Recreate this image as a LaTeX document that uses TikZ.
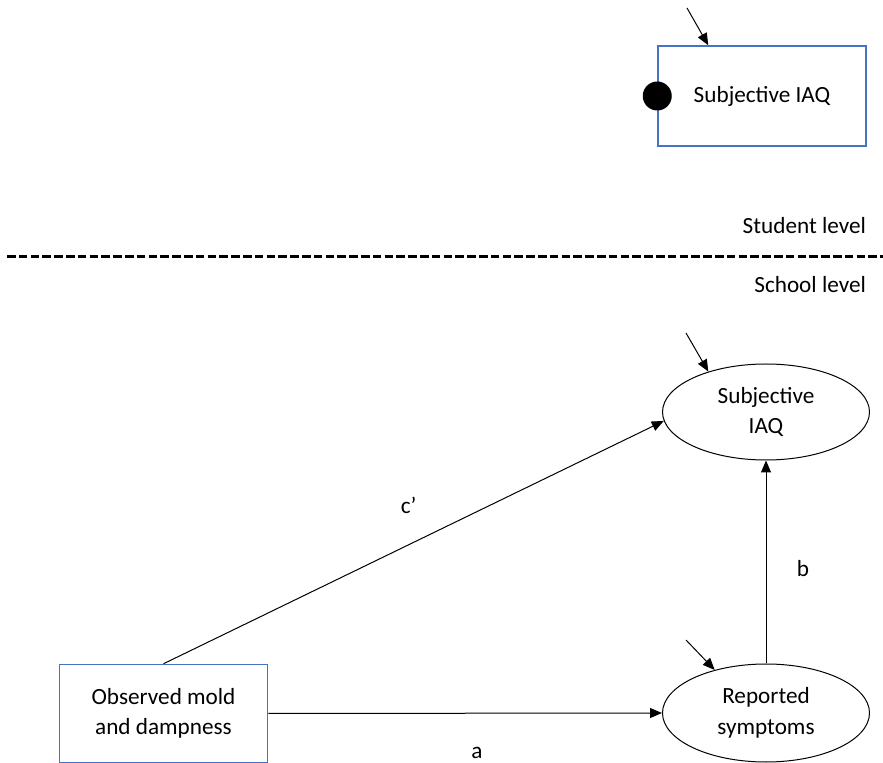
\documentclass[tikz,border=0pt]{standalone}
\usepackage{fontspec}
\setmainfont{Carlito}
\usepackage{xcolor}
\usetikzlibrary{positioning, calc, shapes.geometric, arrows.meta}
\definecolor{boxblue}{HTML}{4472C4}

\begin{document}
\begin{tikzpicture}[
    x=0.5pt, y=-0.5pt,
    every node/.style={font=\fontsize{11.6}{15.2}\selectfont},
    observed/.style={
        rectangle,
        draw=boxblue,
        line width=0.75pt,
        minimum width=104pt,
        minimum height=50pt,
        align=center,
        inner sep=0pt
    },
    latent/.style={
        ellipse,
        draw,
        line width=0.5pt,
        minimum width=103.5pt,
        minimum height=48pt,
        align=center,
        inner sep=0pt
    },
    dot/.style={
        circle,
        fill=black,
        minimum size=14.5pt,
        inner sep=0pt
    },
    arrow/.style={
        -{Triangle[length=6pt, width=5pt]},
        line width=0.5pt
    },
    divider/.style={
        line width=1.5pt,
        dash pattern=on 4.3pt off 1.6pt
    }
]
\useasboundingbox (0,0) rectangle (883,763);

% Student level
\node[observed] (iaqW) at (762,96) {Subjective IAQ};
\node[dot] (randW) at (iaqW.west) {};
\coordinate (errW) at (687,8);

% Levels
\node[anchor=east] (student) at (873,226) {Student level};
\coordinate (sepL) at (7,257);
\coordinate (sepR) at (883,257);
\node[anchor=east] (school) at (873,285) {School level};

% School level
\node[latent] (iaqB) at (766,412) {Subjective\\IAQ};
\node[latent, minimum height=49pt] (symp) at (766,713) {Reported\\symptoms};
\node[observed, minimum height=49pt] (mold) at (163.5,713.5) {Observed mold\\and dampness};
\coordinate (errB) at (686,333);
\coordinate (errS) at (686,640);


% Residuals
\draw[arrow]
    (errW) -- ($(iaqW.north west)+(51,0)$);

\draw[arrow]
    (errB) -- (iaqB.145);

\draw[arrow]
    (errS) -- (symp.140);


% Separator
\draw[divider] (sepL) -- (sepR);


% Mold -> Symptoms : a
\draw[arrow]
    (mold.east)
    -- node[pos=0.53, yshift=-20pt] {a}
    (symp.west);


% Symptoms -> IAQ : b
\draw[arrow]
    (symp.north)
    -- node[pos=0.47, xshift=18.5pt] {b}
    (iaqB.south);


% Mold -> IAQ : c'
\draw[arrow]
    (mold.north)
    -- node[pos=0.49, yshift=19.5pt] {c’}
    (iaqB.185);

\end{tikzpicture}
\end{document}
